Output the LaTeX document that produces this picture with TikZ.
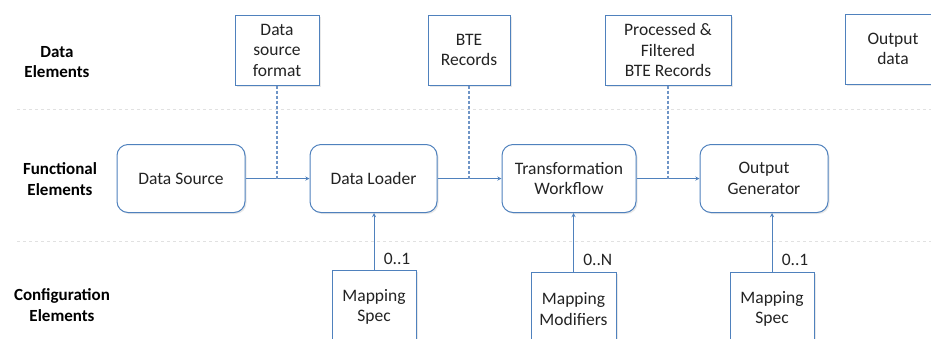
\documentclass[tikz,border=0pt]{standalone}
\usepackage{fontspec}
\setmainfont{Carlito}
\usetikzlibrary{positioning,calc,arrows,shadows}
\definecolor{boxblue}{RGB}{79,129,189}
\definecolor{linkblue}{RGB}{110,148,198}
\definecolor{sepgray}{RGB}{225,225,225}
\definecolor{txtgray}{RGB}{35,35,35}

\begin{document}
\begin{tikzpicture}[>=stealth, x=1pt, y=-1pt,
        font=\fontsize{17.5}{20.5}\selectfont, text=txtgray,
        databox/.style={draw=boxblue, line width=1pt, fill=white, align=center,
            minimum width=84pt, minimum height=70pt,
            drop shadow={shadow xshift=1.5pt, shadow yshift=-1.5pt, opacity=0.18}},
        funcbox/.style={databox, rounded corners=11pt, minimum width=128pt, minimum height=68pt},
        confbox/.style={databox, minimum height=74pt},
        rowlabel/.style={font=\fontsize{17}{20.5}\selectfont\bfseries, align=center, text=black},
        flow/.style={->, draw=boxblue, line width=0.9pt},
        feed/.style={dash pattern=on 3pt off 2pt, draw=linkblue, line width=1.1pt},
        sep/.style={dashed, draw=sepgray, line width=0.9pt}]
    \useasboundingbox (0,0) rectangle (931,338);
    \clip (0,0) rectangle (931,338);
    % lanes
    \draw[sep] (17,109) -- (931,109);
    \draw[sep] (17,241) -- (931,241);
    \node[rowlabel] (dlab) at (57,62) {Data\\Elements};
    \node[rowlabel] (flab) at (60,179) {Functional\\Elements};
    \node[rowlabel] (clab) at (62,305) {Configuration\\Elements};
    % data elements
    \node[databox] (dsf) at (277,50) {Data\\source\\format};
    \node[databox, minimum width=82pt] (bte) at (469,50) {BTE\\Records};
    \node[databox, minimum width=126pt] (pfb) at (668,50) {Processed \&\\Filtered\\BTE Records};
    \node[databox, minimum width=96pt] (out) at (893,49) {Output\\data};
    % functional elements
    \node[funcbox] (src) at (181,178.5) {Data Source};
    \node[funcbox, minimum width=127pt] (ldr) at (373.5,178.5) {Data Loader};
    \node[funcbox, minimum width=134pt] (trf) at (569,178.5) {Transformation\\Workflow};
    \node[funcbox] (gen) at (764,178.5) {Output\\Generator};
    % configuration elements
    \node[confbox] (ms1) at (374,307) {Mapping\\Spec};
    \node[confbox, minimum width=85pt] (mm) at (573.5,309) {Mapping\\Modifiers};
    \node[confbox] (ms2) at (772,309) {Mapping\\Spec};
    % flow
    \draw[flow] (src) -- (ldr);
    \draw[flow] (ldr) -- (trf);
    \draw[flow] (trf) -- (gen);
    \draw[feed] (dsf.south) -- (dsf.south |- src.east);
    \draw[feed] (bte.south) -- (bte.south |- ldr.east);
    \draw[feed] (pfb.south) -- (pfb.south |- trf.east);
    \draw[flow] (ms1.north) -- (ms1.north |- ldr.south) node[pos=0.18, right=6pt] {0..1};
    \draw[flow] (mm.north) -- (mm.north |- trf.south) node[pos=0.2, right=6pt] {0..N};
    \draw[flow] (ms2.north) -- (ms2.north |- gen.south) node[pos=0.2, right=6pt] {0..1};
\end{tikzpicture}
\end{document}
